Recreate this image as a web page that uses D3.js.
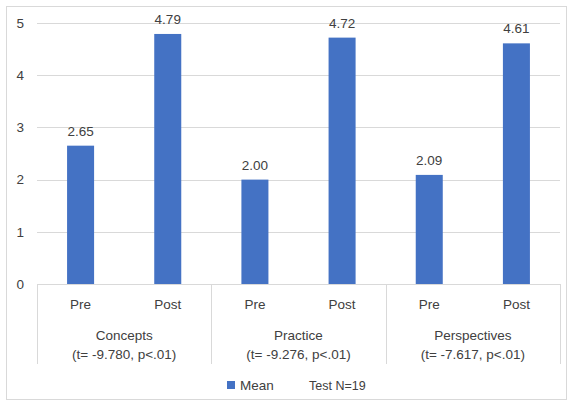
<!DOCTYPE html>
<html>
<head>
<meta charset="utf-8">
<script src="https://cdn.jsdelivr.net/npm/d3@7"></script>
<style>
  html, body { margin: 0; padding: 0; background: #fff; }
  svg { display: block; }
  text { font-family: "Liberation Sans", Arial, sans-serif; fill: #404040; }
</style>
</head>
<body>
<div id="chart"></div>
<script>
// Group means before and after, with paired t-test results per area
const categories = ["Concepts", "Practice", "Perspectives"];
const categoryStats = ["(t= -9.780, p<.01)", "(t= -9.276, p<.01)", "(t= -7.617, p<.01)"];
const phases = ["Pre", "Post"];
const preMeans = [2.65, 2.00, 2.09];
const postMeans = [4.79, 4.72, 4.61];
const yTicks = [0, 1, 2, 3, 4, 5];
const seriesName = "Mean";
const noteText = "Test N=19";

const W = 570, H = 401;
const plot = { left: 37, right: 560, top: 23, bottom: 284 };
const FS = 13.5;

const rows = [];
categories.forEach((c, i) => {
  rows.push({ cat: c, phase: phases[0], value: preMeans[i] });
  rows.push({ cat: c, phase: phases[1], value: postMeans[i] });
});

const svg = d3.select("#chart").append("svg").attr("width", W).attr("height", H);

// chart frame
svg.append("rect")
  .attr("x", 6.5).attr("y", 6.5)
  .attr("width", W - 10).attr("height", H - 8)
  .attr("fill", "#fff").attr("stroke", "#d9d9d9").attr("stroke-width", 1);

const y = d3.scaleLinear().domain([0, 5]).range([plot.bottom, plot.top]);
const x0 = d3.scaleBand().domain(categories).range([plot.left, plot.right]);
const x1 = d3.scaleBand().domain(phases).range([0, x0.bandwidth()]).paddingInner(0.69).paddingOuter(0.345);

// horizontal gridlines
svg.append("g").selectAll("line")
  .data(yTicks.filter(t => t > 0))
  .join("line")
  .attr("x1", plot.left).attr("x2", plot.right)
  .attr("y1", d => Math.round(y(d)) + 0.5).attr("y2", d => Math.round(y(d)) + 0.5)
  .attr("stroke", "#d9d9d9").attr("stroke-width", 1);

// y tick labels
svg.append("g").selectAll("text")
  .data(yTicks)
  .join("text")
  .attr("x", 24).attr("y", d => y(d))
  .attr("dy", "0.35em")
  .attr("text-anchor", "end")
  .attr("font-size", FS)
  .text(d => d);

// bars
const groups = svg.append("g").selectAll("g")
  .data(categories)
  .join("g")
  .attr("transform", c => `translate(${x0(c)},0)`);

groups.selectAll("rect")
  .data(c => rows.filter(r => r.cat === c))
  .join("rect")
  .attr("x", d => x1(d.phase))
  .attr("width", x1.bandwidth())
  .attr("y", d => y(d.value))
  .attr("height", d => y(0) - y(d.value))
  .attr("fill", "#4472c4");

// value labels
groups.selectAll("text.val")
  .data(c => rows.filter(r => r.cat === c))
  .join("text")
  .attr("class", "val")
  .attr("x", d => x1(d.phase) + x1.bandwidth() / 2)
  .attr("y", d => y(d.value) - 10)
  .attr("text-anchor", "middle")
  .attr("font-size", FS)
  .text(d => d.value.toFixed(2));

// category axis: baseline plus group separators
const axisG = svg.append("g").attr("stroke", "#d9d9d9").attr("stroke-width", 1);
axisG.append("line")
  .attr("x1", plot.left).attr("x2", plot.right)
  .attr("y1", plot.bottom + 0.5).attr("y2", plot.bottom + 0.5);
const sepX = categories.map(c => x0(c)).concat([plot.right]);
axisG.selectAll("line.sep")
  .data(sepX)
  .join("line")
  .attr("class", "sep")
  .attr("x1", d => Math.round(d) + 0.5).attr("x2", d => Math.round(d) + 0.5)
  .attr("y1", plot.bottom).attr("y2", 364);

// phase labels
groups.selectAll("text.phase")
  .data(phases)
  .join("text")
  .attr("class", "phase")
  .attr("x", p => x1(p) + x1.bandwidth() / 2)
  .attr("y", 309)
  .attr("text-anchor", "middle")
  .attr("font-size", FS)
  .text(p => p);

// category labels with statistics
groups.append("text")
  .attr("x", x0.bandwidth() / 2)
  .attr("y", 340)
  .attr("text-anchor", "middle")
  .attr("font-size", FS)
  .text(c => c);
groups.append("text")
  .attr("x", x0.bandwidth() / 2)
  .attr("y", 359)
  .attr("text-anchor", "middle")
  .attr("font-size", FS)
  .text((c, i) => categoryStats[i]);

// legend
const legend = svg.append("g");
legend.append("rect")
  .attr("x", 227).attr("y", 381).attr("width", 8).attr("height", 8)
  .attr("fill", "#4472c4");
legend.append("text")
  .attr("x", 240).attr("y", 390)
  .attr("font-size", FS)
  .text(seriesName);
legend.append("text")
  .attr("x", 309).attr("y", 390)
  .attr("font-size", 12.5)
  .text(noteText);
</script>
</body>
</html>
